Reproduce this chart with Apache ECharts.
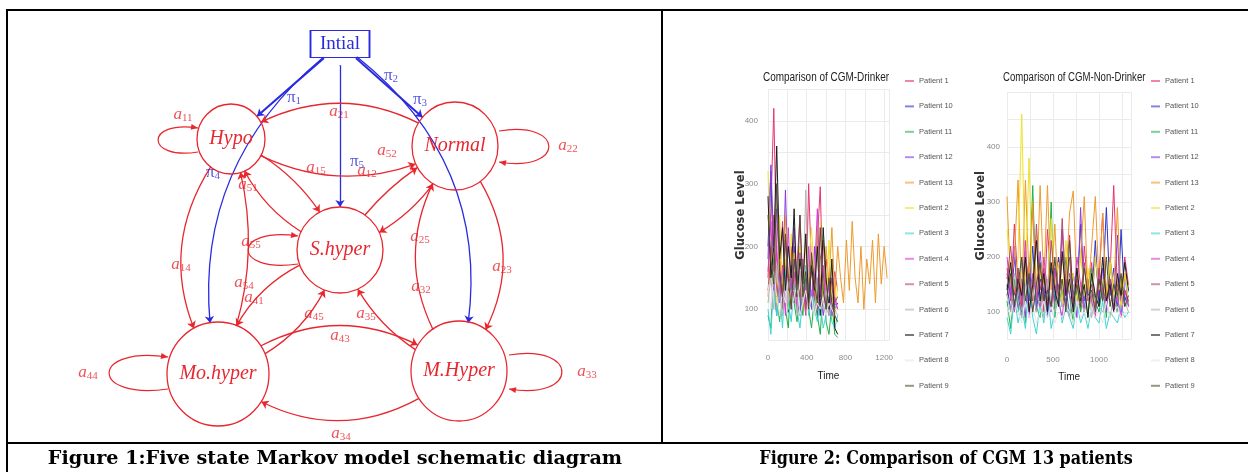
<!DOCTYPE html>
<html>
<head>
<meta charset="utf-8">
<script src="https://cdn.jsdelivr.net/npm/echarts@6/dist/echarts.min.js"></script>
<style>html,body{margin:0;padding:0;background:#fff;}</style>
</head>
<body>
<div id="chart" style="width:1248px;height:472px;"></div>
<script>
  // ---- Figure 1: Markov model ----
  const stateNames = ['Intial', 'Hypo', 'Normal', 'S.hyper', 'Mo.hyper', 'M.Hyper'];
  // [from, to, symbol, subscript]
  const transitions = [
    ['Intial', 'Hypo', 'π', '1'],
    ['Intial', 'Normal', 'π', '2'],
    ['Intial', 'M.Hyper', 'π', '3'],
    ['Intial', 'Mo.hyper', 'π', '4'],
    ['Intial', 'S.hyper', 'π', '5'],
    ['Normal', 'Hypo', 'a', '21'],
    ['Hypo', 'Normal', 'a', '12'],
    ['Hypo', 'S.hyper', 'a', '15'],
    ['S.hyper', 'Normal', 'a', '52'],
    ['S.hyper', 'Hypo', 'a', '51'],
    ['Normal', 'S.hyper', 'a', '25'],
    ['M.Hyper', 'Normal', 'a', '32'],
    ['Normal', 'M.Hyper', 'a', '23'],
    ['Hypo', 'Mo.hyper', 'a', '14'],
    ['Mo.hyper', 'Hypo', 'a', '41'],
    ['S.hyper', 'Mo.hyper', 'a', '54'],
    ['Mo.hyper', 'S.hyper', 'a', '45'],
    ['M.Hyper', 'S.hyper', 'a', '35'],
    ['Mo.hyper', 'M.Hyper', 'a', '43'],
    ['M.Hyper', 'Mo.hyper', 'a', '34']
  ];
  const selfLoops = [
    ['Hypo', 'a', '11'],
    ['Normal', 'a', '22'],
    ['M.Hyper', 'a', '33'],
    ['Mo.hyper', 'a', '44'],
    ['S.hyper', 'a', '55']
  ];

  // layout of the diagram (pixel-like coords of the hidden grid)
  const nodePos = {
    'Intial': [340, 44, 59, 27],
    'Hypo': [231, 139, 68, 70],
    'Normal': [455, 146, 86, 88],
    'S.hyper': [340, 250, 86, 86],
    'Mo.hyper': [218, 374, 102, 104],
    'M.Hyper': [459, 371, 96, 100]
  };
  const edgeBend = {
    'π1': 0, 'π2': 0, 'π3': 0.34, 'π4': -0.32, 'π5': 0,
    a21: -0.35, a12: -0.3, a15: 0.2, a52: 0.15, a51: 0.25, a25: 0.22,
    a32: 0.37, a23: 0.41, a14: -0.37, a41: -0.2, a54: -0.3, a45: -0.28,
    a35: 0.24, a43: 0.39, a34: 0.4
  };
  const labelPos = {
    'π1': [294, 98], 'π2': [391, 76], 'π3': [420, 100], 'π4': [213, 173], 'π5': [357, 162],
    a11: [183, 115], a21: [339, 112], a22: [568, 146], a52: [387, 151], a15: [316, 168],
    a12: [367, 171], a51: [248, 185], a55: [251, 242], a25: [420, 237], a14: [181, 265],
    a23: [502, 267], a32: [421, 287], a54: [244, 283], a41: [254, 298], a45: [314, 314],
    a35: [366, 314], a43: [340, 336], a44: [88, 373], a33: [587, 372], a34: [341, 434]
  };
  // [attach x, top y, bottom y, extent, arrow end]
  const loopGeom = {
    'Hypo': [198, 128, 152, -40, 'top'],
    'Normal': [499, 131, 162, 50, 'bottom'],
    'Mo.hyper': [168, 357, 389, -59, 'top'],
    'M.Hyper': [509, 355, 389, 53, 'bottom'],
    'S.hyper': [298, 236, 264, -50, 'top']
  };

  // ---- Figure 2: CGM traces ----
  const patients = ['Patient 1', 'Patient 10', 'Patient 11', 'Patient 12', 'Patient 13', 'Patient 2',
    'Patient 3', 'Patient 4', 'Patient 5', 'Patient 6', 'Patient 7', 'Patient 8', 'Patient 9'];

  const drinkerTime = [0, 30, 60, 90, 120, 150, 180, 210, 240, 270, 300, 330, 360, 390, 420, 450, 480, 510,
    540, 570, 600, 630, 660, 690, 720, 750, 780, 810, 840, 870, 900, 930, 960, 990, 1020, 1050, 1080, 1110,
    1140, 1170, 1200, 1230];
  const drinkerP1 = [150, 260, 420, 180, 120, 240, 150, 110, 200, 130, 170, 250, 140, 100, 300, 160, 120, 210, 295, 110, 180, 140, 120, 160, 130];
  const drinkerP10 = [200, 320, 140, 90, 160, 110, 180, 95, 130, 200, 120, 90, 150, 110, 170, 100, 140, 90, 130, 160, 110, 90, 120, 100, 110];
  const drinkerP11 = [90, 70, 180, 120, 80, 140, 100, 70, 160, 110, 80, 130, 90, 150, 100, 70, 120, 90, 60, 140, 80, 60, 110, 60, 55];
  const drinkerP12 = [180, 330, 200, 260, 150, 120, 290, 140, 100, 230, 130, 90, 180, 120, 150, 100, 200, 110, 140, 90, 120, 100, 90, 110, 100];
  const drinkerP13 = [120, 200, 150, 100, 180, 130, 250, 140, 110, 190, 120, 160, 100, 220, 140, 180, 120, 230, 150, 110, 200,
    140, 230, 120, 200, 150, 110, 210, 130, 240, 150, 110, 200, 100, 180, 140, 210, 110, 220, 140, 200, 150];
  const drinkerP2 = [320, 150, 200, 110, 250, 140, 180, 100, 220, 150, 120, 200, 130, 90, 170, 230, 140, 100, 240, 130, 90, 210, 120, 80, 140];
  const drinkerP3 = [100, 60, 150, 90, 130, 70, 160, 110, 80, 140, 100, 70, 120, 170, 90, 130, 100, 80, 110, 70, 90, 120, 80, 70, 90];
  const drinkerP4 = [160, 240, 130, 200, 110, 170, 90, 230, 120, 160, 100, 190, 140, 90, 200, 110, 150, 260, 120, 170, 100, 140, 90, 120, 100];
  const drinkerP5 = [130, 180, 250, 120, 160, 100, 210, 130, 170, 110, 150, 120, 180, 100, 140, 160, 120, 100, 180, 210, 130, 100, 150, 110, 120];
  const drinkerP6 = [110, 150, 100, 170, 120, 90, 150, 110, 130, 130, 90, 160, 110, 290, 100, 120, 90, 150, 110, 100, 130, 90, 110, 100, 90];
  const drinkerP7 = [280, 150, 200, 360, 180, 230, 130, 200, 150, 260, 120, 180, 140, 220, 110, 170, 130, 200, 90, 230, 150, 100, 180, 70, 60];
  const drinkerP8 = [140, 100, 160, 120, 90, 130, 110, 150, 100, 120, 140, 90, 110, 130, 100, 120, 90, 110, 100, 120, 90, 110, 100, 90, 100];
  const drinkerP9 = [250, 180, 140, 300, 160, 120, 220, 150, 100, 180, 130, 250, 120, 160, 100, 190, 140, 110, 230, 130, 100, 150, 110, 90, 80];

  const nonDrinkerTime = [0, 40, 80, 120, 160, 200, 240, 280, 320, 360, 400, 440, 480, 520, 560, 600, 640, 680,
    720, 760, 800, 840, 880, 920, 960, 1000, 1040, 1080, 1120, 1160, 1200, 1240, 1280, 1320];
  const nonDrinkerP1 = [180, 120, 260, 150, 100, 210, 140, 300, 120, 180, 100, 250, 160, 110, 200, 130, 170, 240, 120, 150, 100, 220, 140, 190, 110, 160, 280, 130, 170, 330, 140, 120, 200, 150];
  const nonDrinkerP10 = [150, 100, 200, 130, 90, 170, 120, 220, 100, 160, 140, 90, 180, 120, 200, 110, 150, 90, 170, 130, 260, 100, 160, 120, 230, 110, 140, 290, 130, 180, 100, 250, 120, 140];
  const nonDrinkerP11 = [120, 70, 160, 100, 200, 80, 140, 330, 110, 90, 180, 120, 300, 90, 150, 110, 200, 130, 80, 160, 100, 140, 90, 180, 120, 100, 150, 90, 200, 130, 100, 160, 110, 120];
  const nonDrinkerP12 = [170, 130, 220, 110, 160, 90, 190, 140, 100, 210, 130, 160, 100, 180, 120, 250, 110, 170, 140, 90, 290, 120, 150, 110, 200, 130, 180, 100, 160, 120, 240, 100, 170, 110];
  const nonDrinkerP13 = [310, 150, 200, 340, 120, 340, 160, 300, 130, 330, 150, 330, 140, 260, 110, 200, 150, 280, 320, 140, 200, 310, 130, 220, 310, 150, 280, 120, 200, 140, 290, 130, 170, 150];
  const nonDrinkerP2 = [250, 180, 120, 200, 460, 150, 380, 120, 240, 160, 200, 130, 270, 150, 190, 110, 230, 140, 170, 120, 210, 130, 180, 110, 200, 140, 160, 120, 190, 130, 150, 110, 170, 120];
  const nonDrinkerP3 = [90, 60, 130, 80, 110, 70, 150, 90, 60, 120, 80, 140, 70, 100, 130, 80, 110, 90, 70, 120, 80, 100, 70, 110, 90, 80, 120, 70, 100, 90, 80, 110, 90, 100];
  const nonDrinkerP4 = [200, 140, 100, 180, 120, 230, 90, 170, 130, 110, 200, 140, 100, 180, 120, 90, 160, 130, 110, 200, 150, 100, 140, 120, 90, 170, 130, 110, 150, 100, 130, 90, 140, 110];
  const nonDrinkerP5 = [160, 220, 130, 180, 110, 200, 150, 120, 260, 140, 180, 110, 230, 150, 120, 270, 140, 200, 110, 160, 130, 190, 120, 150, 110, 180, 140, 120, 160, 110, 150, 130, 140, 120];
  const nonDrinkerP6 = [130, 100, 170, 120, 90, 150, 110, 140, 100, 130, 90, 160, 120, 100, 140, 110, 130, 90, 150, 110, 120, 100, 140, 90, 130, 110, 100, 120, 90, 130, 100, 110, 120, 100];
  const nonDrinkerP7 = [140, 190, 110, 160, 130, 200, 100, 150, 230, 120, 170, 100, 190, 140, 110, 210, 130, 160, 100, 180, 120, 150, 90, 170, 130, 110, 200, 120, 150, 100, 170, 130, 190, 140];
  const nonDrinkerP8 = [110, 90, 130, 100, 80, 120, 90, 110, 80, 100, 120, 90, 110, 80, 100, 90, 110, 100, 80, 120, 90, 100, 80, 110, 90, 100, 80, 120, 90, 100, 110, 90, 100, 90];
  const nonDrinkerP9 = [130, 170, 110, 150, 200, 120, 170, 100, 150, 190, 120, 140, 110, 200, 130, 160, 100, 230, 120, 150, 110, 180, 130, 140, 100, 160, 120, 200, 110, 150, 130, 170, 110, 130];

  const drinkerSeries = [drinkerP1, drinkerP10, drinkerP11, drinkerP12, drinkerP13, drinkerP2, drinkerP3,
    drinkerP4, drinkerP5, drinkerP6, drinkerP7, drinkerP8, drinkerP9];
  const nonDrinkerSeries = [nonDrinkerP1, nonDrinkerP10, nonDrinkerP11, nonDrinkerP12, nonDrinkerP13, nonDrinkerP2,
    nonDrinkerP3, nonDrinkerP4, nonDrinkerP5, nonDrinkerP6, nonDrinkerP7, nonDrinkerP8, nonDrinkerP9];

  const patientColors = ['#e8346e', '#2c35c8', '#1fb24a', '#8c3cdc', '#ef9a2a', '#eee22a', '#3fd4d4',
    '#d43cd4', '#b84868', '#b4b4b4', '#1c1c1c', '#e6e6e6', '#4e4e34'];

  const RED = '#e8262e';
  const BLUE = '#2a2ae0';
  const SANS = '"Liberation Sans", sans-serif';
  const SERIF = '"Liberation Serif", serif';

  const renderLoop = (params, api) => {
    const a = api.coord([api.value(0), api.value(1)]);
    const b = api.coord([api.value(0), api.value(2)]);
    const e = api.coord([api.value(0) + api.value(3), api.value(1)]);
    const k = (e[0] - a[0]) * 1.33;
    const h = b[1] - a[1];
    const c1 = [a[0] + k, a[1] - h * 0.35];
    const c2 = [b[0] + k, b[1] + h * 0.35];
    const atTop = api.value(4) === 1;
    const tip = atTop ? a : b;
    const from = atTop ? c1 : c2;
    let dx = tip[0] - from[0], dy = tip[1] - from[1];
    const len = Math.hypot(dx, dy);
    dx /= len; dy /= len;
    const base = [tip[0] - dx * 7, tip[1] - dy * 7];
    return {
      type: 'group',
      children: [
        {
          type: 'bezierCurve',
          shape: { x1: a[0], y1: a[1], x2: b[0], y2: b[1], cpx1: c1[0], cpy1: c1[1], cpx2: c2[0], cpy2: c2[1] },
          style: { stroke: RED, fill: null, lineWidth: 1.2 }
        },
        {
          type: 'polygon',
          shape: { points: [tip, [base[0] - dy * 3, base[1] + dx * 3], [base[0] + dy * 3, base[1] - dx * 3]] },
          style: { fill: RED }
        }
      ]
    };
  };

  const symbolLabels = (color) => {
    const items = [];
    transitions.concat(selfLoops.map(l => [l[0], l[0], l[1], l[2]])).forEach(t => {
      const key = t[2] + t[3];
      const isBlue = t[2] === 'π';
      if ((color === BLUE) !== isBlue) return;
      items.push({ value: labelPos[key], sym: t[2], sub: t[3] });
    });
    return {
      type: 'scatter', xAxisIndex: 0, yAxisIndex: 0, silent: true, z: 5,
      symbolSize: 1, itemStyle: { color: 'rgba(0,0,0,0)' },
      data: items,
      label: {
        show: true, position: 'inside',
        formatter: p => `{v|${p.data.sym}}{s|${p.data.sub}}`,
        rich: {
          v: { fontFamily: SERIF, fontStyle: color === RED ? 'italic' : 'normal', fontSize: 17, lineHeight: 18, color: color, verticalAlign: 'middle' },
          s: { fontFamily: SERIF, fontSize: 11, lineHeight: 11, color: color, verticalAlign: 'bottom' }
        }
      }
    };
  };

  const lineSeries = (values, time, axis) => values.map((vals, i) => ({
    type: 'line', name: patients[i], xAxisIndex: axis, yAxisIndex: axis,
    showSymbol: false, symbol: 'none', silent: true,
    color: patientColors[i],
    lineStyle: { width: 1, color: patientColors[i] },
    data: vals.map((v, j) => [time[j], v])
  }));

  const chartDom = document.getElementById('chart');
  const myChart = echarts.init(chartDom, null, { renderer: 'canvas' });

  const axisLabelStyle = { color: '#8a8a8a', fontSize: 8, fontFamily: SANS };
  const gridLine = { show: true, lineStyle: { color: '#ebebeb', width: 1 } };
  const legendBase = {
    data: patients, top: 75, orient: 'vertical', padding: 0, itemGap: 13.4,
    itemWidth: 9, itemHeight: 2, icon: 'rect', selectedMode: false, itemStyle: { opacity: 0.6 },
    textStyle: { fontSize: 7.5, lineHeight: 12, color: '#555', fontFamily: SANS }
  };
  const glucoseName = { fontSize: 11.5, fontWeight: 'bold', color: '#333', fontFamily: '"DejaVu Sans", sans-serif' };
  const timeName = { fontSize: 10, color: '#222', fontFamily: SANS };

  const option = {
    animation: false,
    backgroundColor: '#fff',
    legend: [
      { ...legendBase, left: 905 },
      { ...legendBase, left: 1151 }
    ],
    grid: [
      { left: 0, top: 0, width: 662, height: 443, containLabel: false },
      { left: 768, top: 89.5, width: 121, height: 251.1, containLabel: false },
      { left: 1007, top: 92, width: 124.2, height: 247.5, containLabel: false }
    ],
    xAxis: [
      { gridIndex: 0, type: 'value', min: 0, max: 662, show: false },
      { gridIndex: 1, type: 'value', min: 0, max: 1250, interval: 200,
        name: 'Time', nameLocation: 'middle', nameGap: 31, nameTextStyle: timeName,
        axisLine: { show: false }, axisTick: { show: false }, splitLine: gridLine,
        axisLabel: { ...axisLabelStyle, margin: 13, formatter: v => (v % 400 === 0 ? v : '') } },
      { gridIndex: 2, type: 'value', min: 0, max: 1350, interval: 250,
        name: 'Time', nameLocation: 'middle', nameGap: 33, nameTextStyle: timeName,
        axisLine: { show: false }, axisTick: { show: false }, splitLine: gridLine,
        axisLabel: { ...axisLabelStyle, margin: 16, formatter: v => (v % 500 === 0 ? v : '') } }
    ],
    yAxis: [
      { gridIndex: 0, type: 'value', min: 0, max: 443, inverse: true, show: false },
      { gridIndex: 1, type: 'value', min: 50, max: 450, interval: 50,
        name: 'Glucose Level', nameLocation: 'middle', nameGap: 21, nameRotate: 90, nameMoveOverlap: false,
        nameTextStyle: glucoseName,
        axisLine: { show: false }, axisTick: { show: false }, splitLine: gridLine,
        axisLabel: { ...axisLabelStyle, margin: 10, formatter: v => (v % 100 === 0 ? v : '') } },
      { gridIndex: 2, type: 'value', min: 50, max: 500, interval: 50,
        name: 'Glucose Level', nameLocation: 'middle', nameGap: 20, nameRotate: 90, nameMoveOverlap: false,
        nameTextStyle: glucoseName,
        axisLine: { show: false }, axisTick: { show: false }, splitLine: gridLine,
        axisLabel: { ...axisLabelStyle, margin: 7, formatter: v => (v % 100 === 0 && v < 500 ? v : '') } }
    ],
    graphic: [
      { type: 'line', shape: { x1: 6, y1: 10, x2: 1248, y2: 10 }, style: { stroke: '#000', lineWidth: 2 } },
      { type: 'line', shape: { x1: 7, y1: 10, x2: 7, y2: 472 }, style: { stroke: '#000', lineWidth: 2 } },
      { type: 'line', shape: { x1: 662, y1: 10, x2: 662, y2: 443 }, style: { stroke: '#000', lineWidth: 2 } },
      { type: 'line', shape: { x1: 6, y1: 443, x2: 1248, y2: 443 }, style: { stroke: '#000', lineWidth: 2 } },
      { type: 'text', x: 763, y: 78, scaleX: 0.83,
        style: { text: 'Comparison of CGM-Drinker', fill: '#222', font: '12px "Liberation Sans", sans-serif',
          align: 'left', verticalAlign: 'middle' } },
      { type: 'text', x: 1003, y: 78, scaleX: 0.8,
        style: { text: 'Comparison of CGM-Non-Drinker', fill: '#222', font: '12px "Liberation Sans", sans-serif',
          align: 'left', verticalAlign: 'middle' } },
      { type: 'text', x: 335, y: 459, scaleX: 1.01,
        style: { text: 'Figure 1:Five state Markov model schematic diagram', fill: '#000',
          font: 'bold 19px "DejaVu Serif", serif', align: 'center', verticalAlign: 'middle' } },
      { type: 'text', x: 946, y: 459, scaleX: 0.84,
        style: { text: 'Figure 2: Comparison of CGM 13 patients', fill: '#000',
          font: 'bold 19px "DejaVu Serif", serif', align: 'center', verticalAlign: 'middle' } }
    ],
    series: [
      {
        type: 'graph', coordinateSystem: 'cartesian2d', xAxisIndex: 0, yAxisIndex: 0,
        silent: true, z: 3,
        edgeSymbol: ['circle', 'arrow'], edgeSymbolSize: [1, 7],
        label: { show: true, position: 'inside' },
        data: stateNames.map(n => ({
          name: n,
          value: [nodePos[n][0], nodePos[n][1]],
          symbol: n === 'Intial' ? 'rect' : 'circle',
          symbolSize: [nodePos[n][2], nodePos[n][3]],
          itemStyle: { color: 'rgba(255,255,255,0)', borderColor: n === 'Intial' ? BLUE : RED, borderWidth: 1.3 },
          label: n === 'Intial'
            ? { color: BLUE, fontSize: 19, fontFamily: SERIF }
            : { color: RED, fontSize: 20, fontStyle: 'italic', fontFamily: SERIF }
        })),
        links: transitions.map(t => ({
          source: t[0], target: t[1],
          lineStyle: {
            color: t[2] === 'π' ? BLUE : RED,
            width: (t[3] === '1' || t[3] === '2') && t[2] === 'π' ? 2 : 1.3,
            opacity: 1,
            curveness: edgeBend[t[2] + t[3]]
          }
        }))
      },
      {
        type: 'custom', xAxisIndex: 0, yAxisIndex: 0, silent: true, clip: false, z: 3,
        renderItem: renderLoop,
        encode: { x: 0, y: 1 },
        data: selfLoops.map(l => {
          const g = loopGeom[l[0]];
          return [g[0], g[1], g[2], g[3], g[4] === 'top' ? 1 : 0];
        })
      },
      symbolLabels(RED),
      symbolLabels(BLUE)
    ].concat(lineSeries(drinkerSeries, drinkerTime, 1), lineSeries(nonDrinkerSeries, nonDrinkerTime, 2))
  };
  myChart.setOption(option);
</script>
</body>
</html>
